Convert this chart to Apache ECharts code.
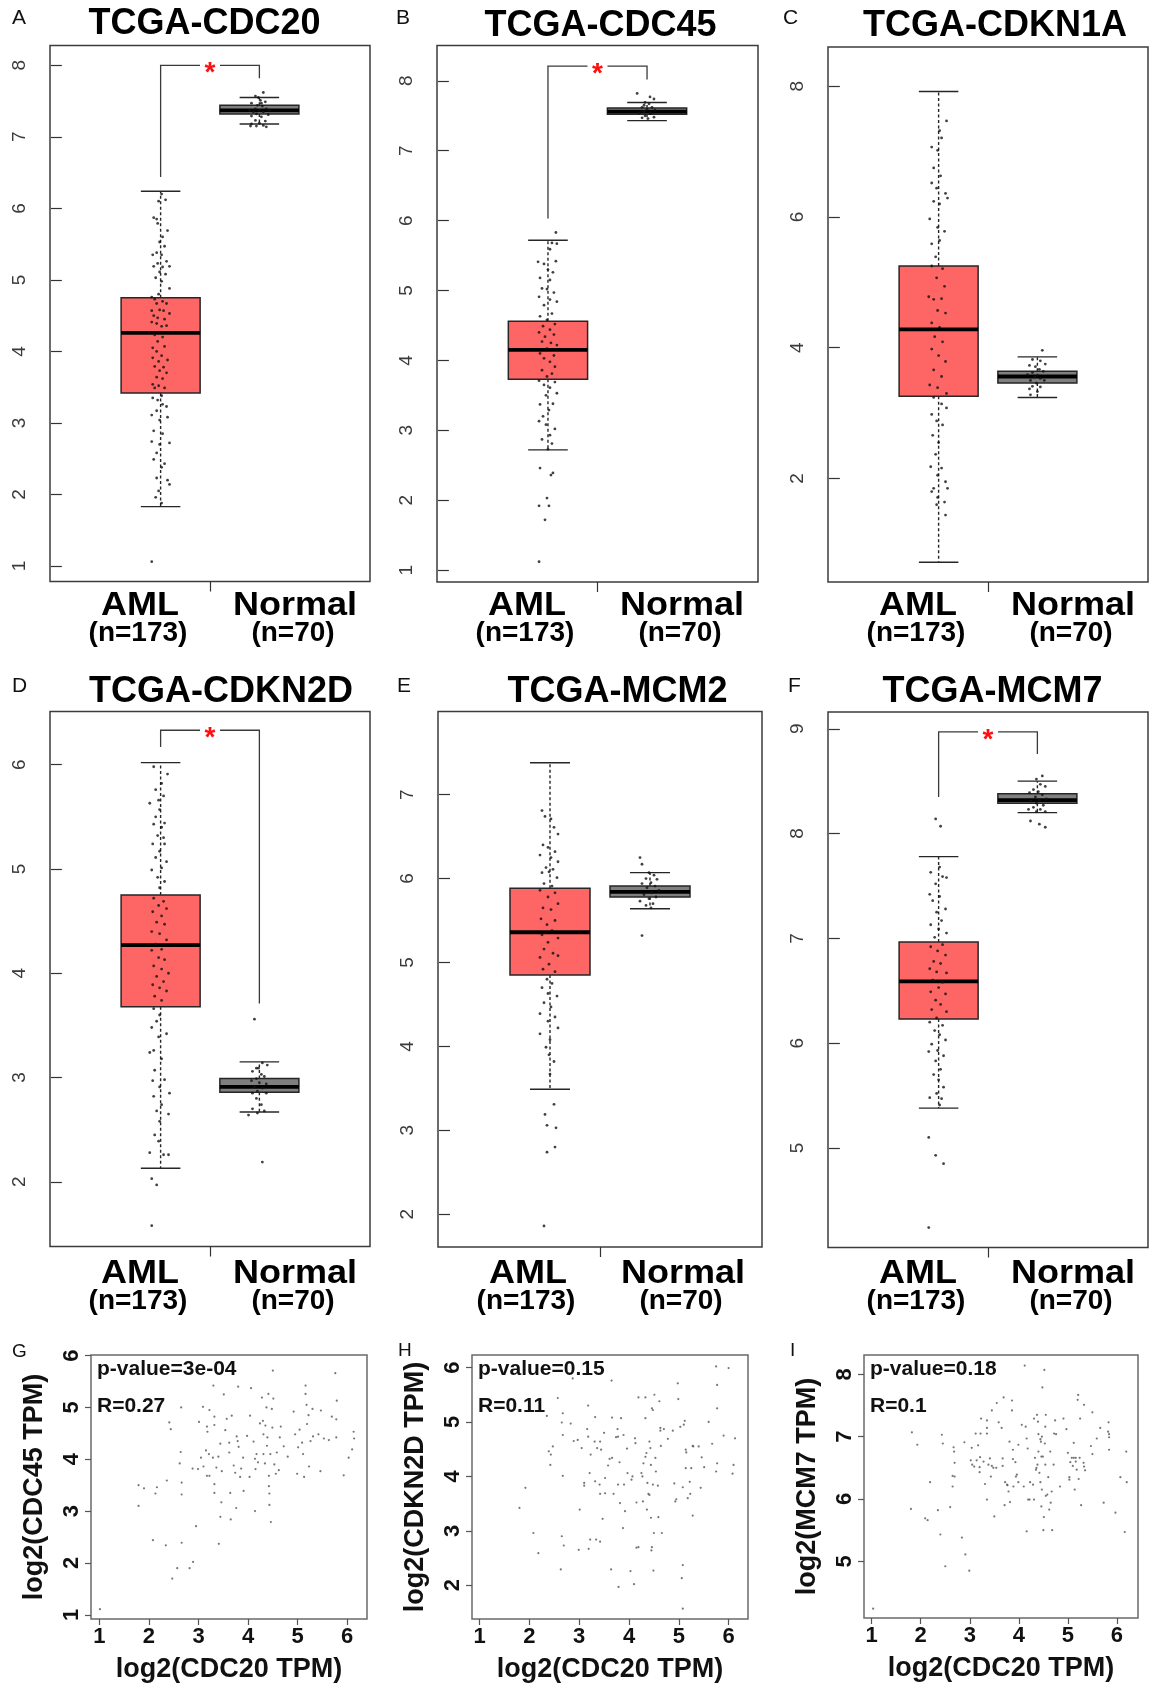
<!DOCTYPE html>
<html><head><meta charset="utf-8">
<script src="https://cdn.jsdelivr.net/npm/echarts@6/dist/echarts.min.js"></script>
<style>html,body{margin:0;padding:0;background:#fff}#c{width:1149px;height:1688px}</style>
</head><body><div id="c"></div>
<script>
// ---------------- DATA ----------------
const groups = ['AML', 'Normal'];
const groupCounts = ['(n=173)', '(n=70)'];
const groupX = [1, 2];
const boxTitles = ['TCGA-CDC20', 'TCGA-CDC45', 'TCGA-CDKN1A', 'TCGA-CDKN2D', 'TCGA-MCM2', 'TCGA-MCM7'];
const panelLetters = ['A', 'B', 'C', 'D', 'E', 'F', 'G', 'H', 'I'];

// [lower whisker, Q1, median, Q3, upper whisker] for AML, Normal
const statsA = [[1.83, 3.42, 4.26, 4.75, 6.24], [7.18, 7.32, 7.37, 7.44, 7.55]];
const statsB = [[2.72, 3.73, 4.15, 4.56, 5.72], [7.43, 7.52, 7.56, 7.61, 7.69]];
const statsC = [[0.72, 3.26, 4.28, 5.25, 7.92], [3.24, 3.46, 3.56, 3.64, 3.86]];
const statsD = [[2.13, 3.68, 4.27, 4.75, 6.02], [2.67, 2.86, 2.91, 2.99, 3.15]];
const statsE = [[3.49, 4.85, 5.36, 5.885, 7.38], [5.64, 5.78, 5.84, 5.91, 6.07]];
const statsF = [[5.38, 6.23, 6.59, 6.965, 7.78], [8.20, 8.29, 8.32, 8.38, 8.50]];

// significance brackets: [left leg end, bracket height, right leg end]
const bracketA = [6.44, 8.0, 7.82];
const bracketB = [6.03, 8.21, 8.02];
const bracketC = null;
const bracketD = [6.17, 6.33, 3.71];
const bracketE = null;
const bracketF = [8.35, 8.97, 8.76];

// y ticks and ranges
const yTicksA = [1, 2, 3, 4, 5, 6, 7, 8];
const yTicksB = [1, 2, 3, 4, 5, 6, 7, 8];
const yTicksC = [2, 4, 6, 8];
const yTicksD = [2, 3, 4, 5, 6];
const yTicksE = [2, 3, 4, 5, 6, 7];
const yTicksF = [5, 6, 7, 8, 9];
const yRangeA = [0.783, 8.277];
const yRangeB = [0.83, 8.505];
const yRangeC = [0.417, 8.6];
const yRangeD = [1.38, 6.51];
const yRangeE = [1.61, 7.99];
const yRangeF = [4.05, 9.16];

// jittered sample points: [jitter offset, expression]
const amlA = [[0.01,6.20],[0.05,6.12],[-0.02,6.10],[-0.07,5.87],[-0.04,5.85],[-0.03,5.79],[0.07,5.69],[0.02,5.60],[-0.01,5.53],[0.04,5.47],[-0.04,5.38],[-0.08,5.35],[0.01,5.35],[0.06,5.26],[-0.03,5.23],[-0.07,5.19],[0.02,5.18],[0.09,5.19],[-0.01,5.11],[0.05,5.08],[-0.05,5.03],[0.01,4.98],[0.09,4.88],[-0.02,4.80],[-0.09,4.76],[-0.06,4.73],[0.02,4.70],[-0.04,4.67],[0.06,4.67],[-0.09,4.57],[-0.01,4.58],[0.03,4.57],[0.09,4.53],[-0.07,4.50],[-0.03,4.47],[0.04,4.45],[-0.09,4.41],[-0.04,4.39],[0.01,4.35],[0.06,4.36],[-0.06,4.23],[0.02,4.20],[-0.03,4.14],[-0.08,4.05],[0.04,4.07],[-0.04,4.00],[0.01,3.94],[-0.08,3.91],[0.07,3.88],[-0.02,3.86],[-0.06,3.79],[0.03,3.78],[-0.01,3.73],[0.06,3.70],[-0.04,3.64],[0.02,3.62],[-0.08,3.54],[-0.02,3.52],[-0.06,3.49],[0.04,3.49],[0.01,3.38],[-0.08,3.35],[-0.03,3.32],[0.02,3.26],[0.06,3.23],[-0.04,3.17],[-0.09,3.11],[0.07,3.08],[-0.01,3.04],[-0.07,2.89],[0.02,2.85],[-0.09,2.74],[0.09,2.72],[-0.01,2.70],[-0.04,2.58],[-0.07,2.49],[0.04,2.43],[0.01,2.38],[-0.04,2.23],[0.07,2.20],[0.09,2.14],[-0.02,2.05],[-0.05,1.96],[0.01,1.88],[-0.09,1.06]];
const normA = [[0.04,7.62],[-0.04,7.57],[0.01,7.51],[0.06,7.49],[-0.08,7.47],[-0.02,7.44],[0.03,7.43],[-0.04,7.39],[0.07,7.39],[0,7.37],[-0.06,7.35],[0.04,7.35],[-0.03,7.32],[0.09,7.31],[-0.08,7.29],[0.02,7.28],[-0.04,7.23],[0.06,7.22],[0,7.19],[-0.08,7.18],[0.04,7.16],[-0.03,7.15],[-0.09,7.15],[0.07,7.14],[0.02,7.47],[-0.01,7.55],[0.10,7.37],[-0.10,7.37]];
const amlB = [[0.08,5.83],[0.04,5.68],[0.09,5.67],[0.02,5.59],[-0.10,5.41],[-0.04,5.38],[0.08,5.42],[0,5.30],[0.05,5.26],[-0.08,5.18],[0.02,5.15],[-0.06,5.03],[-0.01,5.02],[0.06,4.97],[-0.09,4.91],[0.02,4.87],[0.09,4.84],[-0.04,4.79],[0.04,4.67],[-0.08,4.63],[-0.01,4.58],[0.07,4.52],[-0.05,4.49],[0.02,4.44],[-0.09,4.40],[0.06,4.37],[-0.03,4.34],[-0.06,4.27],[0.03,4.25],[0.09,4.22],[-0.01,4.17],[-0.08,4.10],[0.06,4.07],[-0.04,4.03],[0.02,3.98],[0.07,3.91],[-0.06,3.86],[0.04,3.81],[-0.01,3.77],[-0.09,3.71],[0.07,3.69],[-0.04,3.65],[0.02,3.61],[0.09,3.53],[-0.02,3.50],[-0.08,3.37],[0.05,3.38],[0.01,3.29],[-0.05,3.20],[-0.09,3.13],[0.07,3.02],[-0.02,3.08],[0.02,2.93],[-0.06,2.87],[0.04,2.81],[0,2.73],[-0.08,2.46],[0.05,2.39],[0.03,2.36],[-0.01,2.03],[-0.09,1.92],[0.01,1.92],[-0.03,1.72],[-0.09,1.12]];
const normB = [[-0.10,7.82],[0.03,7.77],[0.07,7.74],[-0.02,7.69],[0.02,7.67],[-0.05,7.62],[0.05,7.62],[0,7.59],[-0.03,7.56],[0.08,7.58],[-0.08,7.54],[0.03,7.53],[-0.02,7.50],[0.07,7.48],[0.01,7.46],[-0.05,7.47],[0.04,7.54],[-0.03,7.65]];
const amlC = [[0.08,7.47],[0.01,7.32],[0.03,7.21],[-0.07,7.07],[-0.01,7.02],[-0.05,6.75],[0.02,6.63],[-0.07,6.52],[-0.02,6.44],[0.07,6.36],[-0.05,6.24],[0.01,6.20],[0.09,6.29],[-0.09,5.97],[-0.01,5.84],[0.06,5.78],[-0.07,5.59],[0.01,5.64],[-0.03,5.39],[-0.07,5.25],[0.04,5.21],[-0.02,5.07],[0.06,4.94],[-0.10,4.78],[-0.05,4.74],[0.03,4.75],[-0.01,4.57],[0.07,4.53],[-0.07,4.38],[0.01,4.31],[-0.04,4.17],[0.04,4.09],[-0.07,3.98],[0,3.88],[0.07,3.79],[-0.05,3.66],[0.03,3.56],[-0.09,3.43],[-0.01,3.39],[0.08,3.30],[-0.05,3.24],[0.03,3.14],[0.08,3.08],[-0.07,2.98],[-0.02,2.88],[0.04,2.82],[-0.06,2.66],[0,2.55],[-0.03,2.37],[-0.08,2.18],[0.03,2.16],[-0.01,2.05],[0.07,1.95],[-0.05,1.85],[0.09,1.85],[-0.07,1.80],[-0.01,1.71],[0.06,1.64],[-0.02,1.60],[0.07,1.44]];
const normC = [[0.05,3.96],[-0.05,3.82],[0.03,3.80],[0.08,3.75],[-0.08,3.73],[-0.02,3.71],[0.02,3.67],[-0.05,3.62],[0.06,3.64],[-0.10,3.59],[0,3.58],[-0.03,3.55],[0.03,3.53],[-0.07,3.50],[0.07,3.50],[-0.01,3.46],[-0.05,3.41],[0.03,3.40],[-0.08,3.37],[0,3.33],[-0.07,3.28]];
const amlD = [[-0.07,5.98],[0.07,5.91],[0.01,5.82],[-0.05,5.76],[0.03,5.70],[-0.02,5.66],[-0.11,5.63],[-0.01,5.57],[-0.05,5.50],[0.04,5.44],[-0.07,5.43],[0.01,5.40],[-0.03,5.32],[0.03,5.30],[-0.08,5.24],[0.04,5.24],[-0.01,5.17],[-0.05,5.11],[0.06,5.07],[0.01,5.01],[-0.09,4.99],[-0.03,4.92],[0.04,4.88],[-0.01,4.82],[-0.07,4.72],[0.03,4.69],[-0.02,4.65],[0.06,4.62],[-0.08,4.59],[0.01,4.55],[-0.04,4.49],[0.04,4.47],[-0.09,4.40],[-0.01,4.38],[0.06,4.32],[-0.05,4.28],[0.01,4.23],[-0.09,4.22],[-0.02,4.15],[0.04,4.13],[-0.07,4.07],[0.01,4.04],[0.08,4.00],[-0.04,3.97],[0.03,3.92],[-0.08,3.89],[-0.01,3.86],[0.06,3.83],[-0.06,3.78],[0.01,3.74],[-0.07,3.66],[-0.01,3.60],[-0.04,3.54],[-0.09,3.48],[0.06,3.42],[-0.02,3.39],[-0.07,3.26],[-0.11,3.24],[0.01,3.18],[-0.06,3.07],[0.04,2.98],[-0.08,2.97],[-0.01,2.91],[-0.07,2.82],[0.09,2.85],[0.01,2.74],[-0.04,2.68],[0.08,2.65],[-0.01,2.58],[-0.06,2.45],[-0.02,2.39],[-0.11,2.28],[0.03,2.26],[0.08,2.26],[-0.09,2.03],[-0.04,1.97],[-0.09,1.58]];
const normD = [[-0.05,3.56],[0.03,3.14],[-0.03,3.09],[-0.07,3.06],[0.02,3.03],[0.05,3.01],[-0.03,2.99],[-0.08,2.97],[0,2.95],[0.07,2.94],[-0.05,2.91],[0.03,2.90],[-0.02,2.87],[-0.07,2.85],[0.07,2.85],[-0.03,2.80],[0.02,2.74],[-0.07,2.70],[0.05,2.68],[-0.02,2.66],[-0.11,2.64],[0.03,2.19],[-0.01,3.09],[0.08,3.12]];
const amlE = [[-0.08,6.81],[-0.05,6.74],[0.01,6.71],[0.04,6.61],[0.08,6.53],[-0.07,6.40],[-0.02,6.37],[0.05,6.32],[-0.10,6.28],[0.01,6.25],[0.08,6.20],[-0.04,6.13],[0.03,6.11],[-0.08,6.07],[-0.01,6.08],[0.07,6.01],[-0.06,5.94],[0.02,5.91],[-0.10,5.86],[0.05,5.83],[-0.02,5.78],[0.08,5.70],[-0.07,5.65],[0.01,5.63],[-0.09,5.52],[0.05,5.50],[-0.03,5.45],[0.02,5.38],[-0.08,5.33],[0.08,5.29],[-0.02,5.24],[-0.06,5.16],[0.03,5.11],[-0.10,5.06],[0.08,5.08],[-0.01,4.98],[-0.07,4.92],[0.05,4.89],[-0.03,4.80],[0.02,4.75],[-0.08,4.70],[-0.02,4.63],[0.07,4.60],[-0.06,4.52],[0.01,4.47],[-0.10,4.39],[0.05,4.35],[-0.02,4.30],[0.08,4.22],[-0.10,4.15],[0,4.08],[-0.04,3.99],[-0.01,3.90],[0.04,3.82],[0,3.67],[0.04,3.31],[-0.05,3.19],[-0.03,3.06],[0.06,3.03],[0.05,2.80],[-0.03,2.74],[-0.06,1.86]];
const normE = [[-0.10,6.25],[-0.08,6.17],[-0.01,6.07],[0.04,6.04],[-0.04,6.00],[0.07,5.99],[0.01,5.95],[-0.08,5.94],[0.05,5.91],[-0.03,5.89],[0.09,5.86],[0.02,5.83],[-0.06,5.81],[0.06,5.78],[-0.01,5.76],[-0.10,5.73],[0.03,5.70],[-0.04,5.68],[0.01,5.65],[-0.08,5.32]];
const amlF = [[-0.03,8.14],[0.02,8.07],[0.01,7.68],[-0.08,7.63],[0.04,7.59],[-0.03,7.52],[0.08,7.58],[-0.09,7.42],[0.01,7.40],[-0.06,7.36],[0.07,7.28],[-0.02,7.25],[0.03,7.17],[-0.08,7.13],[0,7.09],[0.08,7.05],[-0.04,7.01],[0.04,6.94],[-0.08,6.92],[-0.01,6.88],[0.07,6.84],[-0.05,6.78],[0.02,6.76],[-0.09,6.71],[-0.02,6.68],[0.08,6.67],[-0.06,6.60],[0.04,6.58],[0,6.53],[-0.08,6.49],[0.07,6.47],[-0.03,6.41],[0.02,6.37],[-0.07,6.32],[0.08,6.30],[-0.02,6.24],[-0.09,6.20],[0.04,6.17],[-0.04,6.12],[0.01,6.08],[0.07,6.03],[-0.07,5.99],[-0.01,5.93],[-0.10,5.92],[0.05,5.88],[-0.03,5.83],[0.02,5.75],[-0.05,5.70],[0,5.65],[0.05,5.58],[-0.02,5.52],[0.03,5.47],[-0.09,5.48],[0.01,5.41],[-0.10,5.10],[-0.03,4.93],[0.05,4.85],[-0.10,4.24]];
const normF = [[0.05,8.55],[-0.01,8.52],[0.03,8.47],[0.08,8.45],[-0.04,8.42],[0.01,8.40],[-0.08,8.39],[0.05,8.37],[-0.02,8.35],[0.09,8.33],[0.02,8.32],[-0.07,8.31],[-0.01,8.29],[0.06,8.27],[-0.04,8.25],[0.03,8.23],[-0.09,8.23],[0.08,8.21],[-0.01,8.21],[-0.07,8.12],[0.02,8.09],[0.08,8.06]];

// correlation scatter panels: [log2(CDC20 TPM), log2(gene TPM)]
const scatterG = [[1.01,1.11],[1.79,3.50],[1.90,3.44],[1.79,3.10],[2.13,3.34],[2.16,3.46],[2.08,2.44],[2.34,2.34],[2.36,3.59],[2.41,4.71],[2.44,4.58],[2.65,5.00],[2.64,4.14],[2.62,3.92],[2.66,3.55],[2.66,3.32],[2.66,2.39],[2.47,1.70],[2.57,1.90],[2.82,1.90],[2.89,2.02],[2.95,2.71],[2.88,3.82],[2.99,3.81],[3.01,4.72],[3.09,5.01],[3.05,4.03],[3.10,3.86],[3.15,4.17],[3.17,4.63],[3.18,4.53],[3.22,4.95],[3.21,4.10],[3.17,3.68],[3.22,3.68],[3.29,4.03],[3.30,5.42],[3.32,4.82],[3.32,4.66],[3.32,3.52],[3.32,3.35],[3.36,3.84],[3.40,4.05],[3.41,2.37],[3.44,2.89],[3.46,3.17],[3.44,4.30],[3.47,3.77],[3.51,5.25],[3.54,4.56],[3.57,4.78],[3.62,4.32],[3.62,4.13],[3.64,3.35],[3.65,2.84],[3.67,4.84],[3.71,3.88],[3.74,3.74],[3.76,3.06],[3.77,4.44],[3.79,4.35],[3.80,5.40],[3.81,4.24],[3.84,3.66],[3.86,3.82],[3.90,4.03],[3.91,3.39],[3.98,4.45],[4.03,3.66],[4.04,4.84],[4.06,5.37],[4.11,4.34],[4.14,4.01],[4.15,3.81],[4.14,3.00],[4.17,4.10],[4.20,3.94],[4.24,4.69],[4.28,5.19],[4.30,4.74],[4.31,4.48],[4.31,4.10],[4.34,3.92],[4.35,4.65],[4.37,5.00],[4.38,4.26],[4.39,4.42],[4.41,5.26],[4.42,3.68],[4.42,3.48],[4.43,3.34],[4.43,3.12],[4.45,4.10],[4.46,2.79],[4.48,4.97],[4.49,4.61],[4.50,5.71],[4.51,5.17],[4.53,3.90],[4.56,3.72],[4.58,4.13],[4.62,3.79],[4.64,4.42],[4.66,4.63],[4.72,4.25],[4.80,4.05],[4.92,4.92],[4.95,4.48],[4.99,3.72],[5.01,4.23],[5.04,4.57],[5.09,4.32],[5.11,4.10],[5.13,3.66],[5.16,5.42],[5.16,5.26],[5.18,5.05],[5.19,4.68],[5.22,4.85],[5.23,3.86],[5.26,4.35],[5.30,4.97],[5.31,4.44],[5.42,4.48],[5.47,4.94],[5.46,3.77],[5.53,4.40],[5.63,4.37],[5.69,4.82],[5.76,5.66],[5.78,4.77],[5.78,4.42],[5.79,5.13],[5.93,3.69],[6.03,4.03],[6.10,4.19],[6.13,4.53],[6.14,4.40]];
const scatterH = [[1.80,3.42],[1.92,3.79],[2.08,2.96],[2.18,2.59],[2.35,5.11],[2.39,4.46],[2.42,4.21],[2.43,4.40],[2.47,4.55],[2.57,5.44],[2.63,2.29],[2.65,2.90],[2.65,4.99],[2.67,5.16],[2.67,4.76],[2.67,4.01],[2.69,2.73],[2.83,4.97],[2.87,5.80],[2.89,4.65],[2.97,4.67],[2.99,2.65],[3.01,3.39],[3.05,4.52],[3.10,3.88],[3.10,3.83],[3.16,4.87],[3.18,5.30],[3.18,4.73],[3.19,2.67],[3.21,4.06],[3.22,2.84],[3.23,4.40],[3.31,4.64],[3.32,5.09],[3.32,3.91],[3.34,2.84],[3.36,4.52],[3.41,3.85],[3.42,3.68],[3.42,2.80],[3.42,4.64],[3.44,4.49],[3.47,3.22],[3.50,4.80],[3.52,3.69],[3.52,3.97],[3.58,4.20],[3.61,4.32],[3.64,2.29],[3.65,5.76],[3.66,5.08],[3.66,4.34],[3.69,3.68],[3.74,4.72],[3.77,4.87],[3.78,4.73],[3.78,3.85],[3.79,1.97],[3.81,4.26],[3.82,3.51],[3.84,5.07],[3.88,3.05],[3.89,4.76],[3.90,3.85],[3.92,3.36],[3.96,4.51],[3.97,4.06],[4.03,2.26],[4.05,3.94],[4.07,4.00],[4.10,2.02],[4.12,4.70],[4.13,4.61],[4.15,3.52],[4.15,2.69],[4.19,2.70],[4.19,5.45],[4.25,4.06],[4.27,4.00],[4.28,3.54],[4.29,4.24],[4.33,5.07],[4.33,5.45],[4.33,4.36],[4.35,4.43],[4.36,3.39],[4.37,3.88],[4.39,3.68],[4.41,3.66],[4.41,4.64],[4.43,4.52],[4.44,4.21],[4.44,3.24],[4.45,2.64],[4.46,2.70],[4.46,5.25],[4.48,5.22],[4.48,3.85],[4.49,2.27],[4.50,2.96],[4.51,5.50],[4.53,4.34],[4.54,4.09],[4.58,3.83],[4.59,3.25],[4.61,5.38],[4.63,4.89],[4.63,4.84],[4.64,4.56],[4.66,2.96],[4.70,4.87],[4.78,4.69],[4.88,4.84],[4.91,3.87],[4.93,3.54],[4.95,3.58],[4.98,5.71],[4.99,5.42],[5.03,4.91],[5.06,2.13],[5.08,3.80],[5.08,2.37],[5.08,1.57],[5.10,4.95],[5.12,5.02],[5.14,4.49],[5.14,4.15],[5.15,4.44],[5.18,3.60],[5.22,3.90],[5.23,3.68],[5.25,4.15],[5.28,4.56],[5.28,3.28],[5.29,4.55],[5.40,4.55],[5.44,3.79],[5.46,4.35],[5.51,4.17],[5.60,5.00],[5.67,4.60],[5.75,6.02],[5.75,4.09],[5.77,4.24],[5.77,5.68],[5.77,5.25],[5.90,4.75],[6.00,5.99],[6.08,4.05],[6.10,4.21],[6.13,4.70]];
const scatterI = [[1.03,4.24],[1.82,7.07],[1.93,6.87],[1.80,5.84],[2.09,5.69],[2.14,5.66],[2.19,6.27],[2.35,5.82],[2.40,5.43],[2.43,7.03],[2.45,6.89],[2.50,4.92],[2.60,5.87],[2.65,6.20],[2.65,6.37],[2.67,6.83],[2.68,6.76],[2.69,6.58],[2.69,6.36],[2.84,5.38],[2.89,6.91],[2.91,5.11],[2.99,4.85],[3.02,6.62],[3.04,6.82],[3.05,6.55],[3.09,6.52],[3.12,7.05],[3.14,6.62],[3.17,6.86],[3.20,6.51],[3.20,6.43],[3.21,6.67],[3.22,7.05],[3.23,7.29],[3.28,6.60],[3.31,6.24],[3.35,5.99],[3.35,7.14],[3.35,7.26],[3.35,7.05],[3.38,6.55],[3.41,6.65],[3.43,6.36],[3.45,6.53],[3.45,7.42],[3.48,6.50],[3.50,5.72],[3.54,6.50],[3.55,7.54],[3.59,7.23],[3.65,7.14],[3.67,6.65],[3.67,6.53],[3.69,7.63],[3.71,5.90],[3.72,6.27],[3.76,6.23],[3.77,6.22],[3.79,6.12],[3.81,6.92],[3.82,5.95],[3.86,7.58],[3.86,7.42],[3.88,6.79],[3.88,6.64],[3.89,6.20],[3.93,6.59],[3.94,6.36],[3.96,6.39],[3.99,6.27],[3.99,6.87],[4.06,7.19],[4.10,6.20],[4.12,8.14],[4.14,7.16],[4.16,6.97],[4.16,5.48],[4.18,6.81],[4.19,5.99],[4.22,5.99],[4.23,6.27],[4.29,6.23],[4.31,5.99],[4.31,7.29],[4.33,6.66],[4.35,6.47],[4.36,6.50],[4.37,7.35],[4.38,6.55],[4.39,7.24],[4.40,7.04],[4.40,6.76],[4.42,6.42],[4.44,6.96],[4.44,6.27],[4.45,6.92],[4.46,6.68],[4.46,5.88],[4.47,7.00],[4.47,6.15],[4.48,7.79],[4.49,6.68],[4.50,5.50],[4.51,5.71],[4.52,8.07],[4.53,6.89],[4.54,6.55],[4.54,7.16],[4.55,7.35],[4.55,6.05],[4.58,6.07],[4.60,6.35],[4.62,5.83],[4.64,6.76],[4.65,5.94],[4.67,6.12],[4.68,5.50],[4.71,6.55],[4.72,7.05],[4.74,7.26],[4.76,7.04],[4.84,6.20],[4.91,7.29],[4.97,7.12],[5.00,6.74],[5.03,6.35],[5.03,6.31],[5.05,6.59],[5.08,6.66],[5.10,6.53],[5.12,6.90],[5.12,6.66],[5.14,6.15],[5.16,6.60],[5.16,6.66],[5.18,6.47],[5.20,7.59],[5.21,7.67],[5.22,6.32],[5.24,6.66],[5.25,7.29],[5.27,5.90],[5.32,6.58],[5.33,7.51],[5.33,6.52],[5.35,6.46],[5.47,6.85],[5.50,6.72],[5.50,7.39],[5.59,6.97],[5.66,7.14],[5.73,5.94],[5.82,7.08],[5.83,7.23],[5.84,6.79],[5.84,7.04],[5.84,6.99],[5.97,5.78],[6.07,6.35],[6.16,5.47],[6.19,6.76],[6.20,6.27]];
const scatterXName = 'log2(CDC20 TPM)';
const scatterYNames = ['log2(CDC45 TPM)', 'log2(CDKN2D TPM)', 'log2(MCM7 TPM)'];
const scatterPValues = ['p-value=3e-04', 'p-value=0.15', 'p-value=0.18'];
const scatterR = ['R=0.27', 'R=0.11', 'R=0.1'];
const scatterXTicks = [1, 2, 3, 4, 5, 6];
const scatterYTicksG = [1, 2, 3, 4, 5, 6];
const scatterYTicksH = [2, 3, 4, 5, 6];
const scatterYTicksI = [5, 6, 7, 8];
const scatterXRanges = [[0.83, 6.40], [0.847, 6.39], [0.843, 6.43]];
const scatterYRanges = [[0.92, 6.01], [1.38, 6.23], [4.09, 8.31]];

// ---------------- LAYOUT / STYLE ----------------
const FONT = 'Liberation Sans, Arial, Helvetica, sans-serif';
const LAYOUT = [
  {left: 50, top: 45.5, width: 320, height: 536},
  {left: 437, top: 45.5, width: 321, height: 536.5},
  {left: 828, top: 47, width: 320, height: 535},
  {left: 50, top: 711.5, width: 320, height: 535},
  {left: 438, top: 711.5, width: 324, height: 535.5},
  {left: 828, top: 712, width: 320, height: 535.5},
  {left: 91, top: 1355, width: 276, height: 264},
  {left: 472, top: 1355, width: 276, height: 264},
  {left: 864, top: 1355, width: 274, height: 263}
];
const LETTER_POS = [[12, 18.5], [396, 18.5], [783, 18.5], [12, 686.5], [397, 686.5], [788, 686.5], [12, 1352], [398, 1351], [790, 1351]];
const LETTER_SIZE = [21, 21, 21, 21, 21, 21, 19, 19, 19];
const TITLE_POS = [[204.5, 24.3], [600.5, 26], [995, 26.5], [221, 692], [617.5, 692], [992.5, 692.5]];
const GROUP_LABEL_Y = [[606, 633.6], [1274, 1301.6]];
const BOX_W = 0.8, CAP_W = 0.4, X_RANGE = [-0.12, 3.12];
const BOX_FILL = ['#fe6565', '#7f7f7f'];

const boxStats = [statsA, statsB, statsC, statsD, statsE, statsF];
const brackets = [bracketA, bracketB, bracketC, bracketD, bracketE, bracketF];
const yTicks = [yTicksA, yTicksB, yTicksC, yTicksD, yTicksE, yTicksF];
const yRanges = [yRangeA, yRangeB, yRangeC, yRangeD, yRangeE, yRangeF];
const amlPts = [amlA, amlB, amlC, amlD, amlE, amlF];
const normPts = [normA, normB, normC, normD, normE, normF];
const scatters = [scatterG, scatterH, scatterI];
const scatterYTicks = [scatterYTicksG, scatterYTicksH, scatterYTicksI];

function renderBox(params, api) {
  const g = params.dataIndex;
  const x = api.value(0);
  const c = v => api.coord([x, v]);
  const lo = c(api.value(1)), q1 = c(api.value(2)), md = c(api.value(3)), q3 = c(api.value(4)), hi = c(api.value(5));
  const bw = api.size([BOX_W, 0])[0], cw = api.size([CAP_W, 0])[0];
  const cx = lo[0], stroke = '#262626';
  return {type: 'group', children: [
    {type: 'line', shape: {x1: cx, y1: q3[1], x2: cx, y2: hi[1]}, style: {stroke, lineWidth: 1.4, lineDash: [3, 2.5]}},
    {type: 'line', shape: {x1: cx, y1: q1[1], x2: cx, y2: lo[1]}, style: {stroke, lineWidth: 1.4, lineDash: [3, 2.5]}},
    {type: 'line', shape: {x1: cx - cw / 2, y1: hi[1], x2: cx + cw / 2, y2: hi[1]}, style: {stroke, lineWidth: 1.4}},
    {type: 'line', shape: {x1: cx - cw / 2, y1: lo[1], x2: cx + cw / 2, y2: lo[1]}, style: {stroke, lineWidth: 1.4}},
    {type: 'rect', shape: {x: cx - bw / 2, y: q3[1], width: bw, height: q1[1] - q3[1]}, style: {fill: BOX_FILL[g], stroke, lineWidth: 1.5}},
    {type: 'line', shape: {x1: cx - bw / 2, y1: md[1], x2: cx + bw / 2, y2: md[1]}, style: {stroke: '#000', lineWidth: 3.8}}
  ]};
}
function renderBracket(params, api) {
  const l = api.coord([groupX[0], api.value(1)]);
  const lt = api.coord([groupX[0], api.value(2)]);
  const rt = api.coord([groupX[1], api.value(2)]);
  const r = api.coord([groupX[1], api.value(3)]);
  const mx = api.coord([api.value(0), api.value(2)])[0];
  const gap = 10, st = {stroke: '#3a3a3a', lineWidth: 1.3, fill: null};
  return {type: 'group', children: [
    {type: 'polyline', shape: {points: [l, lt, [mx - gap, lt[1]]]}, style: st},
    {type: 'polyline', shape: {points: [[mx + gap, rt[1]], rt, r]}, style: st},
    {type: 'text', x: mx, y: lt[1] + 8, style: {text: '*', fill: '#ff1010', font: 'bold 28px ' + FONT, align: 'center', verticalAlign: 'middle'}}
  ]};
}

const grid = [], xAxis = [], yAxis = [], series = [], elements = [];
LAYOUT.forEach((L, i) => grid.push(Object.assign({show: true, borderColor: i < 6 ? '#3c3c3c' : '#6a6a6a', borderWidth: 1.5,
  backgroundColor: 'transparent', containLabel: false, outerBoundsMode: 'none'}, L)));

for (let i = 0; i < 6; i++) {
  xAxis.push({gridIndex: i, type: 'value', min: X_RANGE[0], max: X_RANGE[1],
    axisLine: {show: false}, splitLine: {show: false}, axisLabel: {show: false},
    axisTick: {show: true, length: 10, customValues: [(groupX[0] + groupX[1]) / 2], lineStyle: {color: '#333', width: 1.2}}});
  yAxis.push({gridIndex: i, type: 'value', min: yRanges[i][0], max: yRanges[i][1],
    axisLine: {show: false}, splitLine: {show: false},
    axisTick: {show: true, length: 11, customValues: yTicks[i], lineStyle: {color: '#333', width: 1.2}},
    axisLabel: {customValues: yTicks[i], rotate: 90, margin: 21, fontSize: 19, color: '#3a3a3a', fontFamily: FONT}});
  series.push({type: 'custom', xAxisIndex: i, yAxisIndex: i, renderItem: renderBox, z: 2,
    encode: {x: 0, y: [1, 2, 3, 4, 5]},
    data: boxStats[i].map((s, g) => [groupX[g]].concat(s))});
  series.push({type: 'scatter', xAxisIndex: i, yAxisIndex: i, symbolSize: 2.8, z: 3, silent: true,
    itemStyle: {color: '#111'}, data: amlPts[i].map(p => [groupX[0] + p[0], p[1]])});
  series.push({type: 'scatter', xAxisIndex: i, yAxisIndex: i, symbolSize: 2.8, z: 3, silent: true,
    itemStyle: {color: '#111'}, data: normPts[i].map(p => [groupX[1] + p[0], p[1]])});
  if (brackets[i]) {
    series.push({type: 'custom', xAxisIndex: i, yAxisIndex: i, renderItem: renderBracket, z: 4,
      encode: {x: 0, y: [1, 2, 3]},
      data: [[(groupX[0] + groupX[1]) / 2].concat(brackets[i])]});
  }
  elements.push({type: 'text', x: TITLE_POS[i][0], y: TITLE_POS[i][1],
    style: {text: boxTitles[i], font: 'bold 36px ' + FONT, fill: '#000', align: 'center', verticalAlign: 'middle'}});
  const L = LAYOUT[i], row = i < 3 ? 0 : 1;
  const labelOffsets = [90, 245], countOffsets = [88, 243];
  groups.forEach((gname, g) => {
    elements.push({type: 'text', x: L.left + labelOffsets[g], y: GROUP_LABEL_Y[row][0], scaleX: 1.06,
      style: {text: gname, font: 'bold 34px ' + FONT, fill: '#000', align: 'center', verticalAlign: 'middle'}});
    elements.push({type: 'text', x: L.left + countOffsets[g], y: GROUP_LABEL_Y[row][1],
      style: {text: groupCounts[g], font: 'bold 28px ' + FONT, fill: '#000', align: 'center', verticalAlign: 'middle'}});
  });
}

for (let k = 0; k < 3; k++) {
  const i = 6 + k;
  xAxis.push({gridIndex: i, type: 'value', min: scatterXRanges[k][0], max: scatterXRanges[k][1],
    axisLine: {show: false}, splitLine: {show: false},
    name: scatterXName, nameLocation: 'middle', nameGap: 37,
    nameTextStyle: {fontSize: 27, fontWeight: 'bold', color: '#111', fontFamily: FONT},
    axisTick: {show: true, length: 6, customValues: scatterXTicks, lineStyle: {color: '#555', width: 1.2}},
    axisLabel: {customValues: scatterXTicks, margin: 7, fontSize: 22, fontWeight: 'bold', color: '#111', fontFamily: FONT}});
  yAxis.push({gridIndex: i, type: 'value', min: scatterYRanges[k][0], max: scatterYRanges[k][1],
    axisLine: {show: false}, splitLine: {show: false},
    name: scatterYNames[k], nameLocation: 'middle', nameRotate: 90, nameGap: 43,
    nameTextStyle: {fontSize: 27, fontWeight: 'bold', color: '#111', fontFamily: FONT},
    axisTick: {show: true, length: 6, customValues: scatterYTicks[k], lineStyle: {color: '#555', width: 1.2}},
    axisLabel: {customValues: scatterYTicks[k], rotate: 90, margin: 8, fontSize: 22, fontWeight: 'bold', color: '#111', fontFamily: FONT}});
  series.push({type: 'scatter', xAxisIndex: i, yAxisIndex: i, symbolSize: 2.2, silent: true,
    itemStyle: {color: '#555'}, data: scatters[k]});
  const L = LAYOUT[i];
  elements.push({type: 'text', x: L.left + 6, y: 1369,
    style: {text: scatterPValues[k], font: 'bold 21px ' + FONT, fill: '#111', align: 'left', verticalAlign: 'middle'}});
  elements.push({type: 'text', x: L.left + 6, y: 1406,
    style: {text: scatterR[k], font: 'bold 21px ' + FONT, fill: '#111', align: 'left', verticalAlign: 'middle'}});
}

panelLetters.forEach((t, i) => {
  elements.push({type: 'text', x: LETTER_POS[i][0], y: LETTER_POS[i][1],
    style: {text: t, font: LETTER_SIZE[i] + 'px ' + FONT, fill: '#111', align: 'left', verticalAlign: 'middle'}});
});

const chart = echarts.init(document.getElementById('c'), null, {renderer: 'canvas'});
chart.setOption({
  backgroundColor: '#fff',
  animation: false,
  textStyle: {fontFamily: FONT},
  grid, xAxis, yAxis, series,
  graphic: {elements}
});
</script></body></html>
